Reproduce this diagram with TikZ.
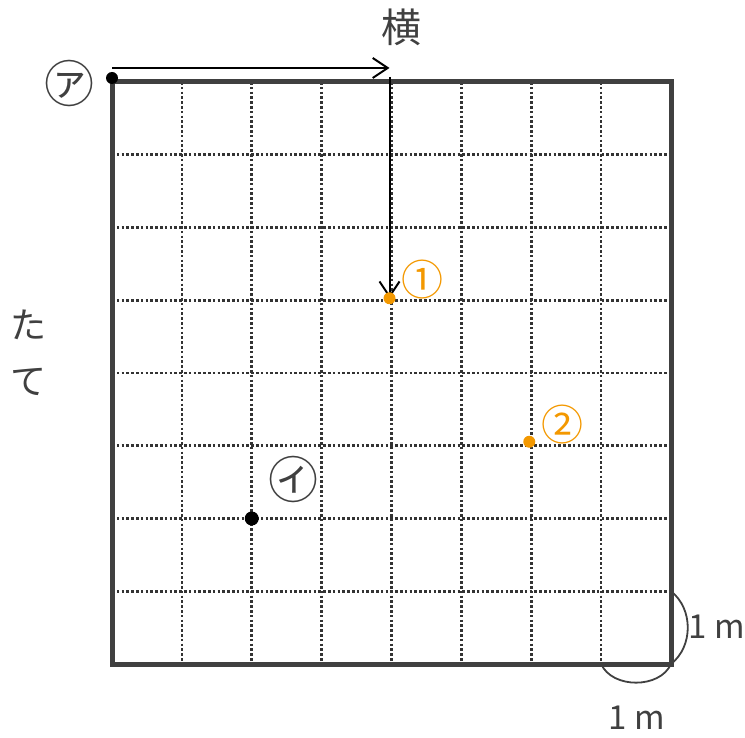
\documentclass[tikz,border=0pt]{standalone}
\usepackage{fontspec}
\newfontfamily\jpfont{Noto Sans CJK JP}
\usetikzlibrary{arrows.meta}
\definecolor{framegray}{HTML}{404040}
\definecolor{markorange}{HTML}{F39800}

\begin{document}
\begin{tikzpicture}[x=1pt, y=-1pt,
  grid/.style={line width=2.6pt, dash pattern=on 2.6pt off 2.2pt, framegray!80!black},
  pathline/.style={line width=2pt, -{Straight Barb[length=15pt, width=20pt, line width=2pt]}},
  dot/.style={circle, inner sep=0pt, minimum size=#1},
  unitarc/.style={line width=1.8pt, framegray},
  lbl/.style={text=framegray, inner sep=0pt, font=\jpfont\fontsize{#1}{#1}\selectfont}]
\useasboundingbox (0,0) rectangle (745,738);

\def\dx{69.875}
\def\dy{72.75}
\def\xl{112}
\def\yt{82}
\def\xr{671}
\def\yb{664}

% dotted grid
\draw[grid] (\xl + \dx, \yt) -- (\xl + \dx, \yb);
\draw[grid] (\xl + 2 * \dx, \yt) -- (\xl + 2 * \dx, \yb);
\draw[grid] (\xl + 3 * \dx, \yt) -- (\xl + 3 * \dx, \yb);
\draw[grid] (\xl + 4 * \dx, \yt) -- (\xl + 4 * \dx, \yb);
\draw[grid] (\xl + 5 * \dx, \yt) -- (\xl + 5 * \dx, \yb);
\draw[grid] (\xl + 6 * \dx, \yt) -- (\xl + 6 * \dx, \yb);
\draw[grid] (\xl + 7 * \dx, \yt) -- (\xl + 7 * \dx, \yb);
\draw[grid] (\xl, \yt + \dy) -- (\xr, \yt + \dy);
\draw[grid] (\xl, \yt + 2 * \dy) -- (\xr, \yt + 2 * \dy);
\draw[grid] (\xl, \yt + 3 * \dy) -- (\xr, \yt + 3 * \dy);
\draw[grid] (\xl, \yt + 4 * \dy) -- (\xr, \yt + 4 * \dy);
\draw[grid] (\xl, \yt + 5 * \dy) -- (\xr, \yt + 5 * \dy);
\draw[grid] (\xl, \yt + 6 * \dy) -- (\xr, \yt + 6 * \dy);
\draw[grid] (\xl, \yt + 7 * \dy) -- (\xr, \yt + 7 * \dy);

% frame
\draw[line width=5pt, framegray] (\xl, \yt) rectangle (\xr, \yb);

% 1m arcs
\coordinate (r0) at (\xr, \yt + 7 * \dy);
\coordinate (r1) at (\xr, \yb);
\coordinate (b0) at (\xl + 7 * \dx, \yb);
\coordinate (b1) at (\xr, \yb);
\draw[unitarc] (r0) to[bend left=52] (r1);
\draw[unitarc] (b0) to[bend right=66] (b1);

% points
\coordinate (start) at (\xl, 78);
\coordinate (h0) at (\xl, 68);
\coordinate (h1) at (\xl + 4 * \dx - 2, 68);
\coordinate (v0) at (\xl + 4 * \dx - 2, 77);
\coordinate (p1) at (\xl + 4 * \dx - 2, \yt + 3 * \dy - 2);
\coordinate (p2) at (\xl + 6 * \dx - 2, \yt + 5 * \dy - 4);
\coordinate (pi) at (\xl + 2 * \dx, \yt + 6 * \dy);

\draw[pathline] (h0) -- (h1);
\draw[pathline] (v0) -- (p1);

\node[dot=12pt, fill=black] at (start) {};
\node[dot=12pt, fill=markorange] at (p1) {};
\node[dot=12pt, fill=markorange] at (p2) {};
\node[dot=14pt, fill=black] at (pi) {};

% labels
\node[lbl=40] (yoko) at (401, 27) {横};
\node[lbl=50] (lblA) at (70, 84) {㋐};
\node[lbl=50] (lblI) at (293, 479) {㋑};
\node[lbl=42, text=markorange] (lbl1) at (422, 280) {①};
\node[lbl=42, text=markorange] (lbl2) at (562, 425) {②};
\node[lbl=36] (ta) at (28, 325) {た};
\node[lbl=36] (te) at (28, 382) {て};
\node[lbl=33] (unitR) at (717, 627) {1 m};
\node[lbl=33] (unitB) at (637, 718) {1 m};

\end{tikzpicture}
\end{document}
